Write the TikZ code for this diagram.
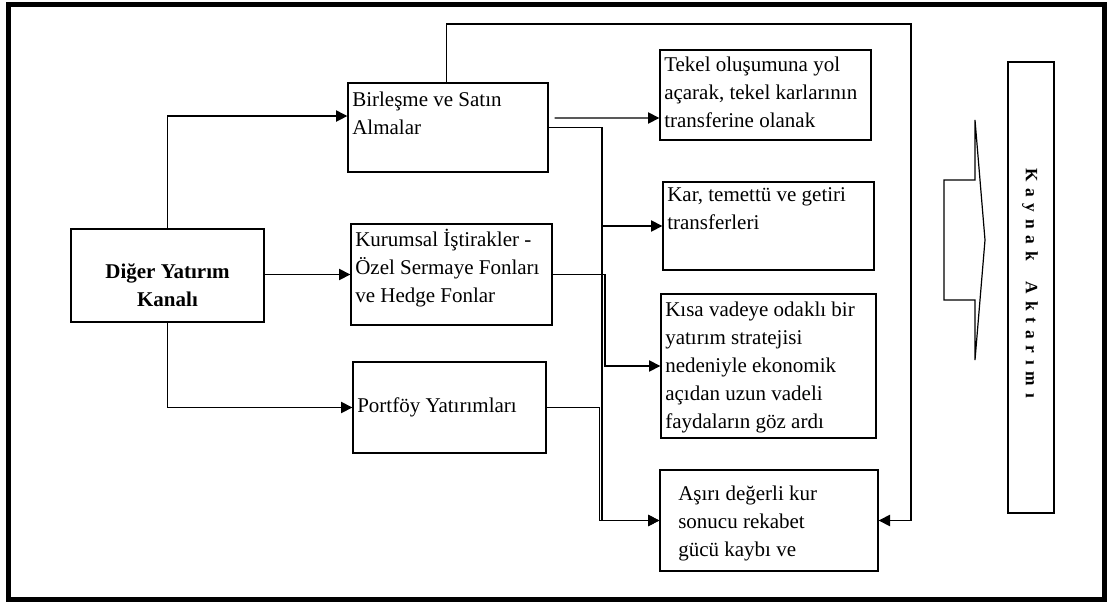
\documentclass[tikz,border=0pt]{standalone}
\usepackage{fontspec}
\setmainfont{Liberation Serif}
\usetikzlibrary{arrows.meta}
\begin{document}
\begin{tikzpicture}[x=0.75pt,y=-0.75pt,
  box/.style 2 args={draw,line width=1pt,inner sep=0pt,
    minimum width=#1*0.75pt,minimum height=#2*0.75pt},
  txt/.style={anchor=base west,align=left,inner sep=0pt,
    font=\fontsize{15.75}{21}\selectfont},
  link/.style={line width=1pt},
  arr/.style={link,-{Triangle[length=8.5pt,width=8.5pt]}},
]
\useasboundingbox (0,0) rectangle (1107,603);

% outer frame
\draw[line width=3.8pt] (8.5,4.5) rectangle (1105,599.5);

% boxes
\node[box={193}{93}]  (diger)  at (167.5,275.5) {};
\node[box={200}{89}]  (birl)   at (448,127.5) {};
\node[box={201}{101}] (kur)    at (451.5,274.5) {};
\node[box={193}{91}]  (port)   at (449.5,407.5) {};
\node[box={211}{90}]  (tekel)  at (765.5,95) {};
\node[box={211}{88}]  (kar)    at (768.5,226) {};
\node[box={215}{144}] (kisa)   at (768.5,366) {};
\node[box={218}{101}] (asiri)  at (769,520.5) {};
\node[box={46}{451}]  (kaynak) at (1031,287.5) {};

% box texts (placed by the baseline of their last line)
\node[anchor=base,align=center,inner sep=0pt,
  font=\fontsize{15.75}{21}\selectfont\bfseries] (digertxt) at (167.5,306)
  {Diğer Yatırım\\Kanalı};
\node[txt] (birltxt)  at (352,134)   {Birleşme ve Satın\\Almalar};
\node[txt] (kurtxt)   at (355,302.7) {Kurumsal İştirakler -\\Özel Sermaye Fonları\\ve Hedge Fonlar};
\node[txt] (porttxt)  at (357,412.5) {Portföy Yatırımları};
\node[txt] (tekeltxt) at (664,127.5) {Tekel oluşumuna yol\\açarak, tekel karlarının\\transferine olanak};
\node[txt] (kartxt)   at (667,229.8) {Kar, temettü ve getiri\\transferleri};
\node[txt] (kisatxt)  at (665,428.7) {Kısa vadeye odaklı bir\\yatırım stratejisi\\nedeniyle ekonomik\\açıdan uzun vadeli\\faydaların göz ardı};
\node[txt] (asiritxt) at (678,556)   {Aşırı değerli kur\\sonucu rekabet\\gücü kaybı ve};

% vertical label
\node[rotate=-90,inner sep=0pt,font=\fontsize{13}{15}\selectfont\bfseries]
  (kaynaktxt) at (1030,283)
  {\hbox to 172.5pt{K\hfil a\hfil y\hfil n\hfil a\hfil k\hfil\hfil\hfil
   A\hfil k\hfil t\hfil a\hfil r\hfil ı\hfil m\hfil ı}};

% block arrow towards the transfer box
\draw[line width=0.9pt,line join=miter]
  (944,180) -- (975,180) -- (975,120) -- (985,240) -- (975,360)
  -- (975,300) -- (944,300) -- cycle;

% bend points
\coordinate (busA) at (602,366);
\coordinate (busB) at (605,366);
\coordinate (busD) at (599.5,366);
\coordinate (fbtop) at (911,24);

% connectors from the main channel
\draw[arr] (diger.north) |- ([yshift=8.6pt]birl.west);
\draw[arr] (diger.east |- kur.west) -- (kur.west);
\draw[arr] (diger.south) |- (port.west);

% connectors to the outcomes
\draw[arr] ([xshift=4.5pt,yshift=7.1pt]birl.east) -- ([yshift=-17.25pt]tekel.west);
\draw[arr] (birl.east) -| (busA |- kar.west) -- (kar.west);
\draw[link] (busA |- kar.west) -- (busA);
\draw[arr] (kur.east) -| (busB |- kisa.west) -- (kisa.west);
\draw[arr] (busA) |- (asiri.west);
\draw[arr] (port.east) -| (busD |- asiri.west) -- (asiri.west);
\draw[arr] ([xshift=-1.2pt]birl.north) |- (fbtop) |- (asiri.east);
\end{tikzpicture}
\end{document}
